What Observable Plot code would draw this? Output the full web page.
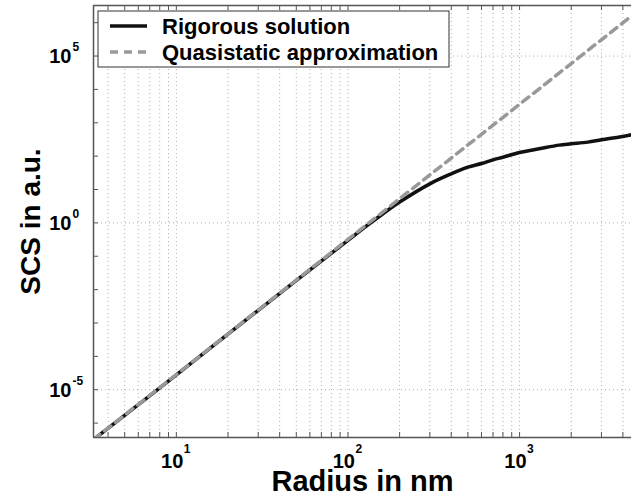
<!DOCTYPE html>
<html><head><meta charset="utf-8">
<script src="https://cdn.jsdelivr.net/npm/d3@7"></script>
<script src="https://cdn.jsdelivr.net/npm/@observablehq/plot@0.6"></script>
<style>body{margin:0;background:#fff;}</style>
</head><body><div id="chart"></div>
<script>
// Series names
const seriesNames = ["Rigorous solution", "Quasistatic approximation"];
// Rigorous solution (radius in nm, SCS in a.u.)
const radiusRigorous = [3.29, 10, 30, 100, 124, 155, 200, 300, 400, 500, 600, 700, 800, 1000, 1300, 1700, 2000, 2500, 3000, 4000, 4490];
const scsRigorous = [3.2e-7, 2.8e-5, 2.4e-3, 0.30, 0.71, 1.66, 4.2, 14.8, 29.5, 46.8, 60, 77.6, 93, 129, 166, 214, 234, 263, 309, 389, 437];
// Quasistatic approximation
const radiusQuasi = [3.29, 10, 100, 1000, 4490];
const scsQuasi = [3.2e-7, 2.84e-5, 0.32, 3.58e3, 1.58e6];
// Axes / ticks
const xDomain = [3.29, 4490];
const yDomain = [3.7e-7, 3.27e6];
const xGridTicks = [4,5,6,7,8,9,10,20,30,40,50,60,70,80,90,100,200,300,400,500,600,700,800,900,1000,2000,3000,4000];
const xLabelTicks = [10, 100, 1000];
const xLabelExponents = ["1", "2", "3"];
const yTicks = [1e-6,1e-5,1e-4,1e-3,1e-2,1e-1,1,1e1,1e2,1e3,1e4,1e5,1e6];
const yLabelTicks = [1e-5, 1, 1e5];
const yLabelExponents = ["-5", "0", "5"];
const xTitle = "Radius in nm";
const yTitle = "SCS in a.u.";

const rigorous = radiusRigorous.map((r, i) => ({r, s: scsRigorous[i]}));
const quasi = radiusQuasi.map((r, i) => ({r, s: scsQuasi[i]}));

const W = 631, H = 498, ML = 93, MR = 0, MT = 5, MB = 61;
const FW = W - ML - MR, FH = H - MT - MB;
const font = "'Liberation Sans', Arial, Helvetica, sans-serif";

const legend = () => {
  const g = d3.create("svg:g");
  g.append("rect").attr("x", 98).attr("y", 11).attr("width", 351).attr("height", 56)
    .attr("fill", "white").attr("stroke", "#333").attr("stroke-width", 1);
  const rows = [
    {y: 26, stroke: "#111", dash: null},
    {y: 52, stroke: "#999", dash: "8,6"}
  ];
  rows.forEach((row, i) => {
    const l = g.append("line").attr("x1", 110).attr("x2", 147).attr("y1", row.y).attr("y2", row.y)
      .attr("stroke", row.stroke).attr("stroke-width", 3.5);
    if (row.dash) l.attr("stroke-dasharray", row.dash);
    g.append("text").attr("x", 162).attr("y", row.y).attr("dy", "0.36em")
      .attr("text-anchor", "start")
      .attr("font-size", 22).attr("font-weight", "bold").attr("fill", "black")
      .attr("font-family", font).text(seriesNames[i]);
  });
  return g.node();
};

const gridStyle = {stroke: "#b0b0b0", strokeWidth: 1, strokeDasharray: "1,3"};

const chart = Plot.plot({
  width: W, height: H,
  marginLeft: ML, marginRight: MR, marginTop: MT, marginBottom: MB,
  style: {fontFamily: font, background: "white", overflow: "visible"},
  x: {type: "log", domain: xDomain, axis: null},
  y: {type: "log", domain: yDomain, axis: null},
  marks: [
    // grid
    Plot.ruleX(xGridTicks, gridStyle),
    Plot.ruleY(yLabelTicks, gridStyle),
    // frame lines
    Plot.ruleY([yDomain[0]], {stroke: "#555", strokeWidth: 1.5}),
    Plot.ruleY([yDomain[1]], {stroke: "#555", strokeWidth: 1.5}),
    Plot.ruleX([xDomain[0]], {stroke: "#555", strokeWidth: 1.5}),
    // tick marks
    Plot.ruleX(xGridTicks, {stroke: "#555", strokeWidth: 1, insetTop: FH - 5}),
    Plot.ruleX(xGridTicks, {stroke: "#555", strokeWidth: 1, insetBottom: FH - 5}),
    Plot.ruleY(yTicks, {stroke: "#555", strokeWidth: 1, insetRight: FW - 5}),
    // data
    Plot.line(rigorous, {x: "r", y: "s", stroke: "#111", strokeWidth: 3.5, curve: "catmull-rom", clip: true}),
    Plot.line(quasi, {x: "r", y: "s", stroke: "#999", strokeWidth: 3.5, strokeDasharray: "8,6", clip: true}),
    // x tick labels
    Plot.text(xLabelTicks, {x: d => d, frameAnchor: "bottom", text: () => "10", dy: 24, dx: 7,
      textAnchor: "end", lineAnchor: "middle", fontSize: 20, fontWeight: "bold", fill: "black"}),
    Plot.text(xLabelTicks, {x: d => d, frameAnchor: "bottom", text: (d, i) => xLabelExponents[i], dy: 12, dx: 7.5,
      textAnchor: "start", lineAnchor: "middle", fontSize: 12, fontWeight: "bold", fill: "black"}),
    // y tick labels
    Plot.text(yLabelTicks, {y: d => d, frameAnchor: "left", text: () => "10", dx: -22, dy: 1,
      textAnchor: "end", lineAnchor: "middle", fontSize: 20, fontWeight: "bold", fill: "black"}),
    Plot.text(yLabelTicks, {y: d => d, frameAnchor: "left", text: (d, i) => yLabelExponents[i], dx: -21, dy: -9,
      textAnchor: "start", lineAnchor: "middle", fontSize: 12, fontWeight: "bold", fill: "black"}),
    // axis titles
    Plot.text([xTitle], {frameAnchor: "bottom", text: d => d, dy: 44, textAnchor: "middle", lineAnchor: "middle",
      fontSize: 29, fontWeight: "bold", fill: "black"}),
    Plot.text([yTitle], {frameAnchor: "left", text: d => d, dx: -62, rotate: -90, textAnchor: "middle", lineAnchor: "middle",
      fontSize: 28, fontWeight: "bold", fill: "black"}),
    legend
  ]
});
document.getElementById("chart").appendChild(chart);
</script>
</body></html>
